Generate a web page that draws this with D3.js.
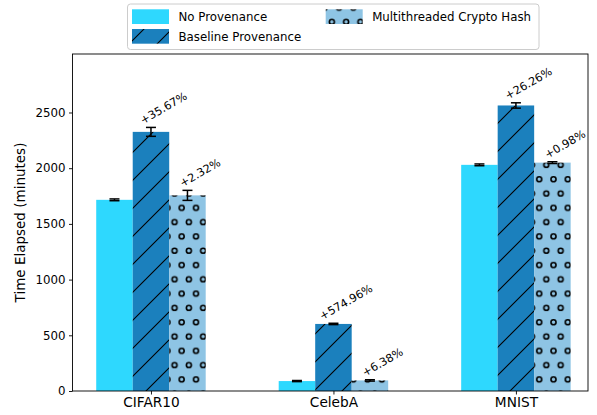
<!DOCTYPE html>
<html>
<head>
<meta charset="utf-8">
<script src="https://cdn.jsdelivr.net/npm/d3@7"></script>
<style>
  html, body { margin: 0; padding: 0; background: #fff; }
  svg { display: block; font-family: "DejaVu Sans", sans-serif; }
</style>
</head>
<body>
<svg id="chart" width="597" height="415"></svg>
<script>
// ---- data ----
const categories = ["CIFAR10", "CelebA", "MNIST"];
const seriesNames = ["No Provenance", "Baseline Provenance", "Multithreaded Crypto Hash"];
const noProvenance = [1716, 89.2, 2030];
const baselineProvenance = [2326, 602, 2563];
const cryptoHash = [1756, 94.9, 2050];
const noProvenanceErr = [8, 5, 8];
const baselineErr = [40, 6, 24];
const cryptoErr = [45, 6, 8];
const baselineLabels = ["+35.67%", "+574.96%", "+26.26%"];
const cryptoLabels = ["+2.32%", "+6.38%", "+0.98%"];
const yTicks = [0, 500, 1000, 1500, 2000, 2500];
const yLabel = "Time Elapsed (minutes)";

// ---- layout ----
const svg = d3.select("#chart");
const L = 72.5, R = 588, T = 54, B = 391;
const barW = 0.2;
const x = d3.scaleLinear().domain([-0.43, 2.395]).range([L, R]);
const y = d3.scaleLinear().domain([0, 3025]).range([B, T]);

const colors = ["#2ed8fe", "#1b80bd", "#8ec4e4"];
const fills = [colors[0], "url(#hatchSlash)", "url(#hatchCircle)"];

// patterns
const defs = svg.append("defs");
const ps = defs.append("pattern").attr("id", "hatchSlash")
  .attr("patternUnits", "userSpaceOnUse").attr("width", 28).attr("height", 28)
  .attr("x", 5).attr("y", 0);
ps.append("rect").attr("width", 28).attr("height", 28).attr("fill", colors[1]);
ps.append("path").attr("d", "M0,28L28,0M-7,7L7,-7M21,35L35,21")
  .attr("stroke", "#000").attr("stroke-width", 1.1);

const pc = defs.append("pattern").attr("id", "hatchCircle")
  .attr("patternUnits", "userSpaceOnUse").attr("width", 14.3).attr("height", 28.6)
  .attr("x", 2.95).attr("y", 0.45);
pc.append("rect").attr("width", 14.3).attr("height", 28.6).attr("fill", colors[2]);
[[7.15, 7.15], [0, 21.45], [14.3, 21.45]].forEach(([cx, cy]) => {
  pc.append("circle").attr("cx", cx).attr("cy", cy).attr("r", 2.5)
    .attr("fill", "none").attr("stroke", "#000").attr("stroke-width", 1.6);
});

// bars
const series = [
  { vals: noProvenance, err: noProvenanceErr, off: -barW },
  { vals: baselineProvenance, err: baselineErr, off: 0 },
  { vals: cryptoHash, err: cryptoErr, off: barW }
];
const pxW = x(barW) - x(0);
series.forEach((s, si) => {
  svg.append("g").selectAll("rect").data(s.vals).join("rect")
    .attr("x", (d, i) => x(i + s.off) - pxW / 2)
    .attr("y", d => y(d))
    .attr("width", pxW)
    .attr("height", d => y(0) - y(d))
    .attr("fill", fills[si]);
});

// error bars
series.forEach(s => {
  const g = svg.append("g").attr("stroke", "#000").attr("stroke-width", 1.5);
  s.vals.forEach((v, i) => {
    const cx = x(i + s.off);
    const y1 = y(v + s.err[i]), y0 = y(v - s.err[i]);
    g.append("line").attr("x1", cx).attr("x2", cx).attr("y1", y1).attr("y2", y0);
    g.append("line").attr("x1", cx - 5).attr("x2", cx + 5).attr("y1", y1).attr("y2", y1);
    g.append("line").attr("x1", cx - 5).attr("x2", cx + 5).attr("y1", y0).attr("y2", y0);
  });
});

// percent labels
function addLabels(s, labels) {
  labels.forEach((t, i) => {
    const cx = x(i + s.off);
    const top = y(s.vals[i] + s.err[i]);
    const txt = svg.append("text").attr("font-size", 11.2).attr("fill", "#000").text(t);
    const w = txt.node().getComputedTextLength();
    const x0 = cx + 14.5 - 0.433 * w;
    const y0 = top - 3;
    txt.attr("x", x0).attr("y", y0).attr("transform", `rotate(-30,${x0},${y0})`);
  });
}
addLabels(series[1], baselineLabels);
addLabels(series[2], cryptoLabels);

// axes
const yAxis = d3.axisLeft(y).tickValues(yTicks).tickSize(3.5).tickPadding(3.5).tickFormat(d3.format("d"));
const gy = svg.append("g").attr("transform", `translate(${L},0)`).call(yAxis);
gy.select(".domain").remove();
gy.selectAll("text").attr("font-size", 11.8).attr("font-family", "DejaVu Sans").attr("fill", "#000");
gy.selectAll("line").attr("stroke", "#000").attr("stroke-width", 0.9);

const xAxis = d3.axisBottom(x).tickValues(categories.map((c, i) => i)).tickFormat(i => categories[i])
  .tickSize(3.5).tickPadding(3);
const gx = svg.append("g").attr("transform", `translate(0,${B})`).call(xAxis);
gx.select(".domain").remove();
gx.selectAll("text").attr("font-size", 13.7).attr("font-family", "DejaVu Sans").attr("fill", "#000");
gx.selectAll("line").attr("stroke", "#000").attr("stroke-width", 0.9);

// spines
svg.append("rect").attr("x", L).attr("y", T).attr("width", R - L).attr("height", B - T)
  .attr("fill", "none").attr("stroke", "#000").attr("stroke-width", 0.9);

// y label
svg.append("text").attr("transform", `translate(25,${(T + B) / 2}) rotate(-90)`)
  .attr("text-anchor", "middle").attr("font-size", 13.5).attr("fill", "#000").text(yLabel);

// legend
const lg = svg.append("g");
lg.append("rect").attr("x", 127.5).attr("y", 4).attr("width", 411.5).attr("height", 45.5)
  .attr("rx", 3).attr("fill", "#fff").attr("fill-opacity", 0.8)
  .attr("stroke", "#cccccc").attr("stroke-width", 1);
const legPos = [[132, 9.3], [132, 29], [325.7, 9.3]];
seriesNames.forEach((n, i) => {
  const [lx, ly] = legPos[i];
  lg.append("rect").attr("x", lx).attr("y", ly).attr("width", 37).attr("height", 14.7).attr("fill", fills[i]);
  lg.append("text").attr("x", lx + 46.5).attr("y", ly + 11.6).attr("font-size", 11.8).attr("fill", "#000").text(n);
});
</script>
</body>
</html>
